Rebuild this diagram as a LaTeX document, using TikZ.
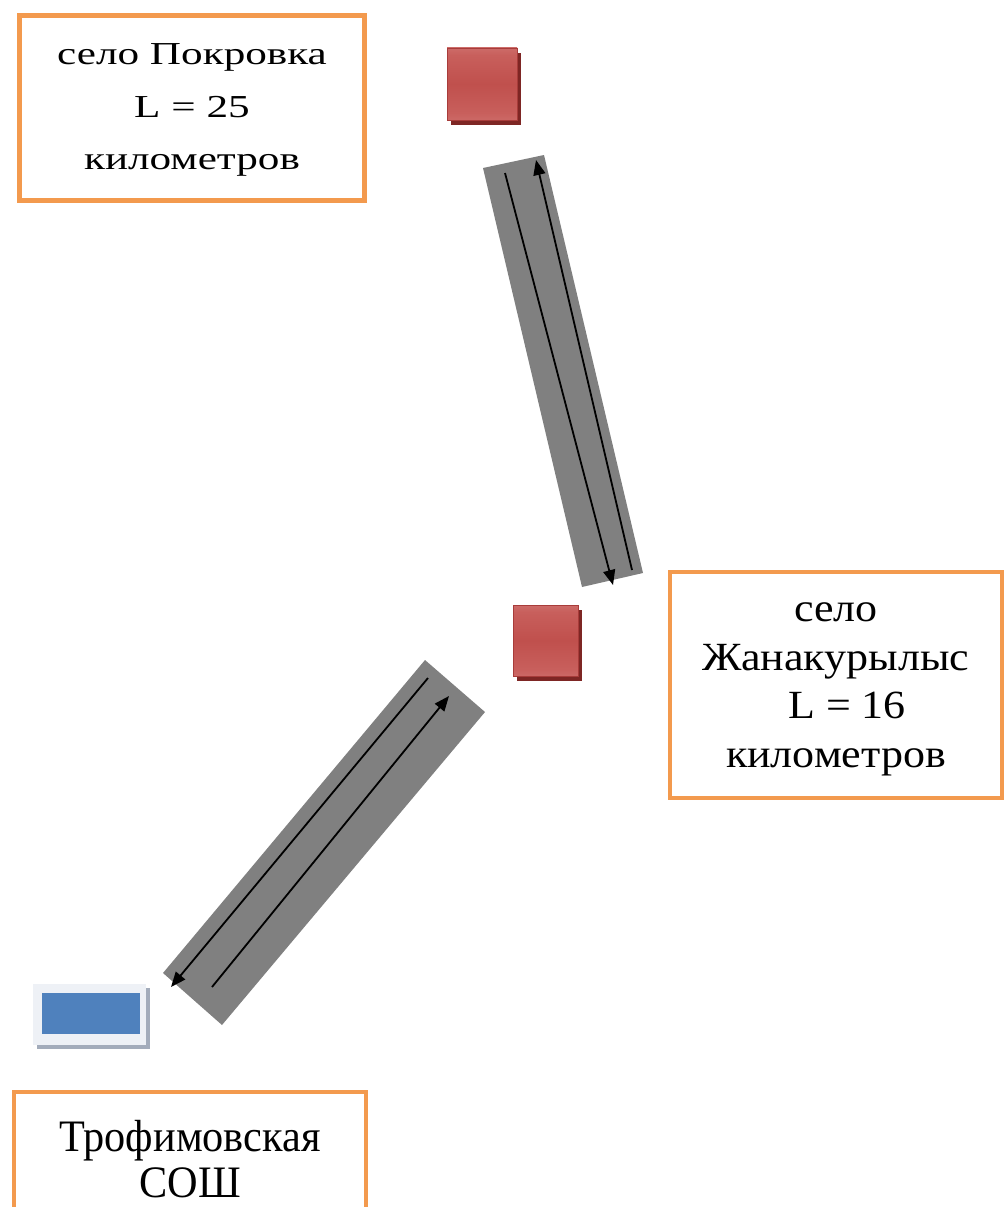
\documentclass[tikz,border=0pt]{standalone}
\usepackage{fontspec}
\setmainfont{Liberation Serif}
\usepackage{graphicx}
\usetikzlibrary{arrows.meta}
\definecolor{boxorange}{HTML}{F39A4E}
\definecolor{roadgray}{HTML}{808080}
\definecolor{redface}{HTML}{C0504D}
\definecolor{redmid}{HTML}{C85F5C}
\definecolor{redtop}{HTML}{DC9492}
\definecolor{redbot}{HTML}{D88986}
\definecolor{rededge}{HTML}{A83C3A}
\definecolor{redshadow}{HTML}{7E2624}
\definecolor{schoolblue}{HTML}{4F81BD}
\definecolor{schoolframe}{HTML}{EEF1F6}
\definecolor{schoolshadow}{HTML}{A3ACBB}
\pgfdeclareverticalshading{redbar}{100bp}{%
  color(0bp)=(redbot); color(8bp)=(redbot); color(30bp)=(redmid);
  color(50bp)=(redface); color(70bp)=(redmid); color(92bp)=(redtop); color(100bp)=(redtop)}
\begin{document}
\begin{tikzpicture}[x=1pt,y=-1pt,
  placebox/.style={draw=boxorange, line width=4.5pt, fill=white, inner sep=0pt, rectangle},
  redsquare/.style={rectangle, inner sep=0pt, draw=rededge, line width=0.8pt, shading=redbar},
  redshade/.style={rectangle, inner sep=0pt, fill=redshadow},
  road/.style={fill=roadgray, draw=none},
  lane/.style={line width=1.8pt, draw=black, -{Triangle[length=15pt,width=12pt]}}
]
\useasboundingbox (0,0) rectangle (1005,1207);

% ---------- roads ----------
\coordinate (r1a) at (483,168);
\coordinate (r1b) at (544,155);
\coordinate (r1c) at (643,573);
\coordinate (r1d) at (582,587);
\fill[road] (r1a) -- (r1b) -- (r1c) -- (r1d) -- cycle;

\coordinate (r2a) at (425,660);
\coordinate (r2b) at (485,712);
\coordinate (r2c) at (222,1025);
\coordinate (r2d) at (163,973);
\fill[road] (r2a) -- (r2b) -- (r2c) -- (r2d) -- cycle;

% lanes of the upper road
\coordinate (l1s) at (505,173);
\coordinate (l1e) at (613,585);
\coordinate (l2s) at (632,570);
\coordinate (l2e) at (536,160);
\draw[lane] (l1s) -- (l1e);
\draw[lane] (l2s) -- (l2e);

% lanes of the lower road
\coordinate (l3s) at (428,678);
\coordinate (l3e) at (171,987);
\coordinate (l4s) at (212,987);
\coordinate (l4e) at (449,696);
\draw[lane] (l3s) -- (l3e);
\draw[lane] (l4s) -- (l4e);

% ---------- villages (red squares) ----------
\node[redshade, minimum width=70pt, minimum height=72pt] (pokrShadow) at (486,89) {};
\node[redsquare, minimum width=70pt, minimum height=72pt] (pokrSq) at (482,84) {};
\node[redshade, minimum width=65pt, minimum height=71pt] (zhanShadow) at (549.5,645.5) {};
\node[redsquare, minimum width=65pt, minimum height=71pt] (zhanSq) at (545.5,640.5) {};

% ---------- school (blue rectangle) ----------
\node[rectangle, inner sep=0pt, fill=schoolshadow, minimum width=113pt, minimum height=61pt] (schoolShadow) at (93,1018.5) {};
\node[rectangle, inner sep=0pt, fill=schoolframe, minimum width=113pt, minimum height=61pt] (schoolFrame) at (89.5,1014.5) {};
\node[rectangle, inner sep=0pt, fill=schoolblue, minimum width=98pt, minimum height=41pt] (schoolSq) at (91,1013.5) {};

% ---------- labels ----------
\node[placebox, minimum width=345pt, minimum height=185pt] (pokrovka) at (192,108)
  {\raisebox{-5pt}[0pt][0pt]{\scalebox{1.35}[1]{\fontsize{32}{52.5}\selectfont\begin{tabular}{@{}c@{}}село Покровка\\L = 25\\километров\end{tabular}}}};

\node[placebox, minimum width=332pt, minimum height=226pt] (zhanakurylys) at (836,685)
  {\raisebox{-2pt}{\scalebox{1.1}[1]{\fontsize{40}{48.5}\selectfont\begin{tabular}{@{}c@{}}село\\Жанакурылыс\\\ \ L = 16\\километров\end{tabular}}}};

\node[placebox, minimum width=352pt, minimum height=117pt] (trofimovka) at (190,1150.5)
  {\raisebox{-21pt}[0pt][0pt]{\scalebox{0.94}[1]{\fontsize{45}{46}\selectfont\begin{tabular}{@{}c@{}}Трофимовская\\СОШ\end{tabular}}}};
\end{tikzpicture}
\end{document}
